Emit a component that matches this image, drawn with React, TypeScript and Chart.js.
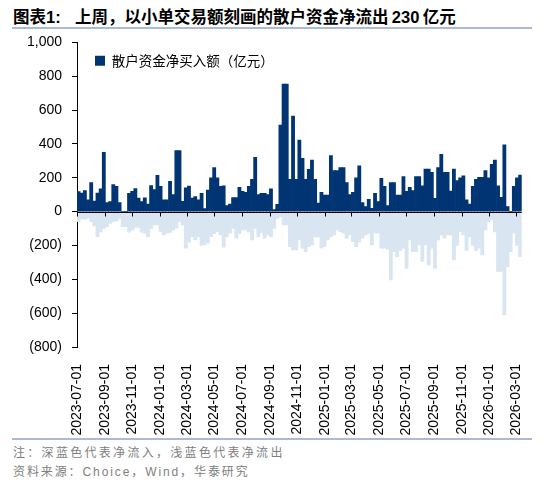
import React, { useEffect, useRef } from "react";
import { Chart, registerables } from "chart.js";

Chart.register(...registerables);

// Weekly bars starting with the week of 2023-07-01
const firstWeek = "2023-07-01";
const legendLabel = "散户资金净买入额（亿元）";

// dark blue: net inflow (亿元)
const inflow = [
  118, 110, 124, 70, 171, 63, 110, 134, 350, 53,
  60, 160, 150, 53, 0, 0, 108, 120, 136, 80,
  60, 81, 45, 154, 130, 215, 150, 70, 70, 179,
  100, 360, 360, 61, 140, 151, 80, 89, 70, 108,
  18, 128, 200, 260, 200, 150, 152, 35, 45, 83,
  83, 144, 120, 114, 150, 191, 321, 100, 108, 108,
  100, 134, 12, 43, 512, 754, 754, 191, 565, 191,
  423, 315, 191, 250, 305, 191, 50, 114, 98, 98,
  331, 242, 242, 260, 260, 171, 100, 114, 200, 270,
  53, 30, 73, 20, 108, 60, 197, 150, 35, 171,
  171, 98, 98, 207, 120, 144, 125, 207, 207, 152,
  252, 252, 232, 79, 260, 339, 232, 232, 122, 252,
  183, 200, 212, 70, 45, 150, 191, 203, 203, 242,
  200, 280, 305, 152, 85, 394, 30, 0, 150, 200,
  216,
];

// light blue: net outflow (亿元)
const outflow = [
  -59, -45, -45, -39, -59, -85, -148, -120, -100, -89,
  -69, -59, -55, -40, -89, -89, -122, -110, -94, -94,
  -122, -128, -150, -100, -79, -79, -118, -138, -128, -125,
  -110, -98, -59, -79, -216, -180, -148, -167, -148, -200,
  -195, -187, -148, -130, -118, -138, -210, -150, -128, -98,
  -157, -130, -108, -108, -120, -167, -100, -148, -124, -157,
  -138, -150, -100, -40, -30, -79, -79, -207, -226, -226,
  -167, -216, -236, -207, -197, -150, -150, -216, -207, -167,
  -150, -138, -108, -118, -128, -157, -138, -177, -207, -180,
  -157, -138, -130, -197, -128, -128, -216, -216, -222, -403,
  -236, -266, -230, -216, -335, -167, -236, -236, -197, -295,
  -197, -315, -216, -335, -167, -138, -157, -138, -138, -285,
  -200, -118, -138, -230, -148, -200, -230, -216, -256, -108,
  -60, -49, -120, -354, -354, -610, -325, -236, -128, -200,
  -266,
];

// x-axis tick labels
const tickLabels = [
  "2023-07-01", "2023-09-01", "2023-11-01", "2024-01-01", "2024-03-01",
  "2024-05-01", "2024-07-01", "2024-09-01", "2024-11-01", "2025-01-01",
  "2025-03-01", "2025-05-01", "2025-07-01", "2025-09-01", "2025-11-01",
  "2026-01-01", "2026-03-01",
];

const yMin = -800;
const yMax = 1000;
const yStep = 200;

const DAY = 86400000;
const dayOf = (s: string) => {
  const [y, m, d] = s.split("-").map(Number);
  const [y0, m0, d0] = firstWeek.split("-").map(Number);
  return Math.round((Date.UTC(y, m - 1, d) - Date.UTC(y0, m0 - 1, d0)) / DAY);
};

const DARK = "#003473";
const LIGHT = "#dae5f2";

const fmtY = (v: number) => {
  const a = Math.abs(v).toLocaleString("en-US");
  return v < 0 ? `(${a})` : a;
};

export default function App() {
  const ref = useRef<HTMLCanvasElement>(null);

  useEffect(() => {
    if (!ref.current) return;
    Chart.defaults.font.family = "'Liberation Sans', Arial, sans-serif";
    const xs = inflow.map((_, i) => 3.5 + 7 * i);
    const tickDays = tickLabels.map(dayOf);
    const labelByDay: Record<number, string> = {};
    tickLabels.forEach((t, i) => (labelByDay[tickDays[i]] = t));

    const zeroAxis = {
      id: "zeroAxis",
      afterLayout(chart: any) {
        const lg = chart.legend;
        if (lg) {
          lg.left += 6;
          lg.right += 6;
          lg.top += 18;
          lg.bottom += 18;
        }
      },
      afterDatasetsDraw(chart: any) {
        const { ctx, chartArea, scales } = chart;
        const x = scales.x;
        const y = scales.y;
        const y0 = Math.round(y.getPixelForValue(0)) + 0.5;
        ctx.save();
        ctx.strokeStyle = "#000";
        ctx.lineWidth = 1;
        ctx.beginPath();
        ctx.moveTo(chartArea.left, y0);
        ctx.lineTo(chartArea.right, y0);
        x.ticks.forEach((t: any) => {
          const px = Math.round(x.getPixelForValue(t.value)) + 0.5;
          ctx.moveTo(px, y0);
          ctx.lineTo(px, y0 + 4);
        });
        ctx.stroke();
        ctx.restore();
      },
    };

    const chart = new Chart(ref.current, {
      type: "bar",
      data: {
        datasets: [
          {
            label: legendLabel,
            data: xs.map((x, i) => ({ x, y: inflow[i] })),
            backgroundColor: DARK,
            borderWidth: 0,
            grouped: false,
            barPercentage: 1,
            categoryPercentage: 1,
          },
          {
            label: "净流出",
            data: xs.map((x, i) => ({ x, y: outflow[i] })),
            backgroundColor: LIGHT,
            borderWidth: 0,
            grouped: false,
            barPercentage: 1,
            categoryPercentage: 1,
          },
        ],
      },
      plugins: [zeroAxis],
      options: {
        animation: false,
        responsive: true,
        maintainAspectRatio: false,
        layout: { padding: { top: 0, right: 26, left: 0, bottom: 0 } },
        plugins: {
          tooltip: { enabled: false },
          legend: {
            position: "chartArea",
            align: "start",
            labels: {
              filter: (item: any) => item.datasetIndex === 0,
              boxWidth: 10,
              boxHeight: 10,
              padding: 12,
              color: "#000",
              font: { size: 13.5, family: "'Noto Sans CJK SC', sans-serif" },
            },
          },
        },
        scales: {
          x: {
            type: "linear",
            min: 0,
            max: 987,
            offset: false,
            border: { display: false },
            grid: { display: false, drawTicks: false },
            afterBuildTicks: (s: any) => {
              s.ticks = tickDays.map((v) => ({ value: v }));
            },
            afterFit: (s: any) => {
              s.height = 93;
            },
            ticks: {
              autoSkip: false,
              maxRotation: 90,
              minRotation: 90,
              padding: 17,
              color: "#000",
              font: { size: 14 },
              callback: (v: any) => labelByDay[v] ?? "",
            },
          },
          y: {
            min: yMin,
            max: yMax,
            border: { display: true, color: "#000", width: 1 },
            grid: {
              drawOnChartArea: false,
              drawTicks: true,
              tickLength: 5,
              tickColor: "#000",
            },
            afterFit: (s: any) => {
              s.width = 77;
            },
            ticks: {
              stepSize: yStep,
              padding: 10,
              color: "#000",
              font: { size: 14 },
              callback: (v: any) => fmtY(Number(v)),
            },
          },
        },
      },
    } as any);
    return () => chart.destroy();
  }, []);

  const cjk = "'Liberation Sans', 'Noto Sans CJK SC', sans-serif";
  return (
    <div
      style={{
        position: "absolute",
        left: 0,
        top: 0,
        width: 550,
        height: 485,
        background: "#fff",
        fontFamily: cjk,
      }}
    >
      <div
        style={{
          position: "absolute",
          left: 13,
          top: 6,
          fontSize: 16.5,
          fontWeight: "bold",
          color: "#000",
          whiteSpace: "pre",
          lineHeight: "22px",
        }}
      >
        {"图表1:"}
      </div>
      <div
        style={{
          position: "absolute",
          left: 75,
          top: 6,
          fontSize: 16.5,
          fontWeight: "bold",
          color: "#000",
          whiteSpace: "pre",
          lineHeight: "22px",
        }}
      >
        {"上周，以小单交易额刻画的散户资金净流出\u2009230\u2009亿元"}
      </div>
      <div
        style={{
          position: "absolute",
          left: 12,
          top: 27,
          width: 520,
          height: 2,
          background: "#a9bcd3",
        }}
      />
      <div style={{ position: "absolute", left: 0, top: 24, width: 550, height: 416 }}>
        <canvas ref={ref} />
      </div>
      <div
        style={{
          position: "absolute",
          left: 12,
          top: 438,
          width: 520,
          height: 2,
          background: "#a9bcd3",
        }}
      />
      <div
        style={{
          position: "absolute",
          left: 13,
          top: 444,
          fontSize: 12,
          color: "#808080",
          letterSpacing: 2.3,
          whiteSpace: "pre",
          lineHeight: "18px",
        }}
      >
        {"注：深蓝色代表净流入，浅蓝色代表净流出"}
      </div>
      <div
        style={{
          position: "absolute",
          left: 13,
          top: 463,
          fontSize: 12,
          color: "#808080",
          letterSpacing: 1.9,
          whiteSpace: "pre",
          lineHeight: "18px",
        }}
      >
        {"资料来源：Choice，Wind，华泰研究"}
      </div>
    </div>
  );
}
